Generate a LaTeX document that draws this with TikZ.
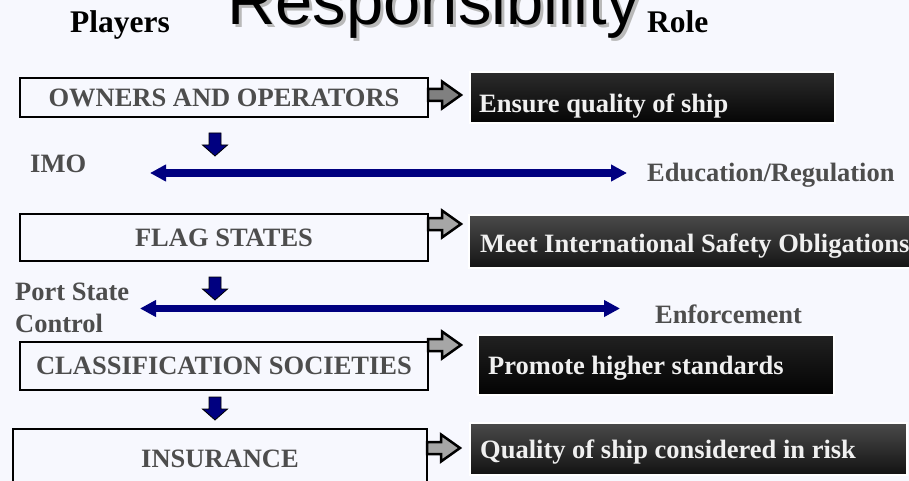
\documentclass[tikz,border=0pt]{standalone}
\usepackage{fontspec}
\setmainfont{Liberation Serif}
\setsansfont{Liberation Sans}
\usepackage{tikz}
\usetikzlibrary{arrows.meta,calc}
\usepackage{xcolor}
\definecolor{pagebg}{RGB}{247,248,254}
\definecolor{textgray}{RGB}{77,77,77}
\definecolor{navyblue}{RGB}{0,0,128}

\begin{document}
\begin{tikzpicture}[
  x=1pt, y=-1pt,
  head/.style={anchor=base west, inner sep=0pt, font=\fontsize{31.5}{34}\selectfont\bfseries},
  txt/.style={anchor=base west, inner sep=0pt, text=textgray, font=\fontsize{26.5}{30}\selectfont\bfseries},
  player/.style={draw, line width=2.5pt, inner sep=0pt, text=textgray,
    font=\fontsize{26.5}{30}\selectfont\bfseries, text height=17.5pt, text depth=0pt,
    minimum width=408pt, minimum height=#1},
  rolebox/.style={draw=white, line width=1.2pt, inner sep=0pt, minimum height=#1},
  roletxt/.style={anchor=base west, inner sep=0pt, text=white!94!black, font=\fontsize{26.5}{30}\selectfont\bfseries},
  dblarr/.style={navyblue, line width=7.3pt, {Triangle[length=16pt,width=16pt]}-{Triangle[length=16pt,width=16pt]}},
  downarr/.style={fill=navyblue, draw=black, line width=0.8pt, line join=miter},
  sidearr/.style={fill=#1, draw=black, line width=2.5pt, line join=miter},
]
\useasboundingbox (0,0) rectangle (909,481);
\clip (0,0) rectangle (909,481);
\fill[pagebg] (0,0) rectangle (909,481);

% --- heading ---
\node[anchor=base west, inner sep=0pt, text=gray!55, font=\sffamily\fontsize{67}{70}\selectfont]
  at (230,28) {Responsibility};
\node[anchor=base west, inner sep=0pt, font=\sffamily\fontsize{67}{70}\selectfont]
  (title) at (227,25) {Responsibility};
\node[head] (players) at (70,33) {Players};
\node[head] (role) at (647,33) {Role};

% --- players ---
\node[player=39pt] (owners) at (224,97.5) {OWNERS AND OPERATORS};
\node[player=47pt] (flag) at (224,237.5) {FLAG STATES};
\node[player=48pt] (class) at (224,366) {CLASSIFICATION SOCIETIES};
\node[player=59pt, minimum width=414pt] (insur) at (220,458.5) {INSURANCE};

% --- roles ---
\node[rolebox=51pt, minimum width=365pt, top color=black!83, bottom color=black!98] (ensure) at (652.5,97.5) {};
\node[roletxt] (ensuretxt) at (479,113) {Ensure quality of ship};
\node[rolebox=53pt, minimum width=441pt, top color=black!71, bottom color=black!92] (meet) at (689.5,241.5) {};
\node[roletxt] (meettxt) at (480,252) {Meet International Safety Obligations};
\node[rolebox=60pt, minimum width=356pt, top color=black!87, bottom color=black!99] (promote) at (656,365) {};
\node[roletxt] (promotetxt) at (488,374) {Promote higher standards};
\node[rolebox=52pt, minimum width=437pt, top color=black!71, bottom color=black!93] (quality) at (688.5,449) {};
\node[roletxt] (qualitytxt) at (480,458) {Quality of ship considered in risk};

% --- player to role arrows ---
\foreach \n/\dy/\c in {owners/2.5/gray, flag/13.5/gray!70, class/21/gray!70, insur/10.5/gray!70} {
  \coordinate (s) at ($(\n.east)+(-1.25,-\dy)$);
  \filldraw[sidearr=\c] (s) ++(0,-6) -- ++(14,0) -- ++(0,-7.5) -- ++(19,13.5)
    -- ++(-19,13.5) -- ++(0,-7.5) -- ++(-14,0) -- cycle;
}

% --- down arrows ---
\foreach \y in {133,277,397}
  \filldraw[downarr] (209,\y) -- (221,\y) -- (221,{\y+12}) -- (227.5,{\y+12})
    -- (215,{\y+23}) -- (202.5,{\y+12}) -- (209,{\y+12}) -- cycle;

% --- IMO ---
\node[txt] (imo) at (30,172) {IMO};
\node[txt] (edu) at (647,182) {Education/Regulation};
\coordinate (imoL) at (150,173);
\coordinate (imoR) at (627,173);
\draw[dblarr] (imoL) -- (imoR);

% --- port state control ---
\node[txt] (port) at (15,300) {Port State};
\node[txt] (control) at (15,332) {Control};
\node[txt] (enforce) at (655,323) {Enforcement};
\coordinate (pscL) at (140,308.5);
\coordinate (pscR) at (620,308.5);
\draw[dblarr] (pscL) -- (pscR);
\end{tikzpicture}
\end{document}
